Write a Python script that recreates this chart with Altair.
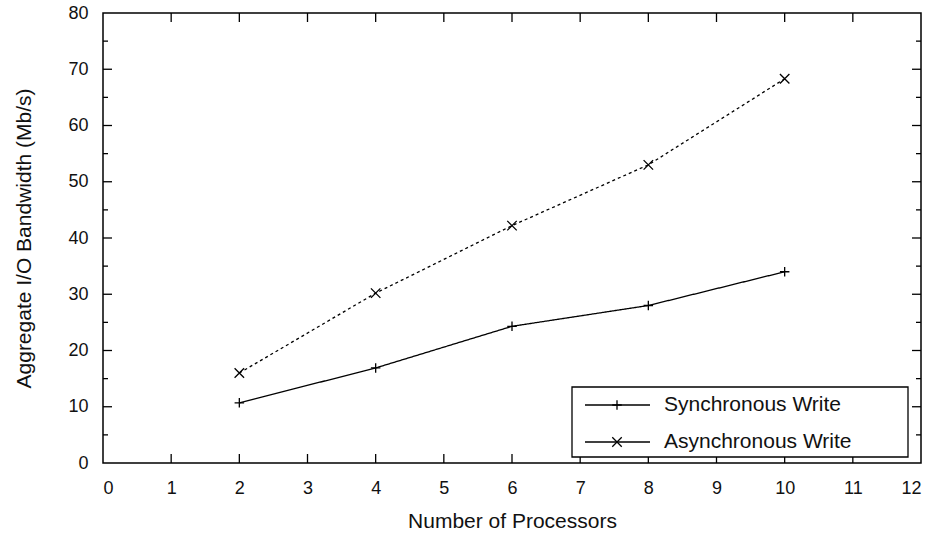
import altair as alt
import pandas as pd

# Measured aggregate write bandwidth versus number of processors
processors = [2, 4, 6, 8, 10]
sync_write = [10.7, 16.9, 24.3, 28.0, 34.0]
async_write = [16.0, 30.2, 42.2, 53.0, 68.3]
series_names = ["Synchronous Write", "Asynchronous Write"]

# Axis tick values
x_ticks = list(range(0, 13))
y_major = list(range(0, 81, 10))
y_minor = list(range(5, 80, 10))

FONT = "Liberation Sans"
W, H = 818, 450

df = pd.DataFrame({
    "procs": processors * 2,
    "bw": sync_write + async_write,
    "series": [series_names[0]] * len(processors) + [series_names[1]] * len(processors),
})

xscale = alt.Scale(domain=[0, 12], nice=False, zero=False)
yscale = alt.Scale(domain=[0, 80], nice=False, zero=False)
xaxis = alt.Axis(values=x_ticks, ticks=False, domain=False, grid=False,
                 labelPadding=16, labelFontSize=18, labelFont=FONT, labelColor="#111",
                 titleFont=FONT, titleFontSize=21, titleFontWeight="normal",
                 titleColor="#111", titlePadding=13)
yaxis = alt.Axis(values=y_major, ticks=False, domain=False, grid=False,
                 labelPadding=15, labelFontSize=18, labelFont=FONT, labelColor="#111",
                 titleFont=FONT, titleFontSize=21, titleFontWeight="normal",
                 titleColor="#111", titlePadding=33)
X_TITLE = "Number of Processors"
Y_TITLE = "Aggregate I/O Bandwidth (Mb/s)"


def xenc(field):
    return alt.X(field, type="quantitative", scale=xscale, axis=xaxis, title=X_TITLE)


def yenc(field):
    return alt.Y(field, type="quantitative", scale=yscale, axis=yaxis, title=Y_TITLE)


dash_scale = alt.Scale(domain=series_names, range=[[1, 0], [3, 3]])
shape_scale = alt.Scale(domain=series_names,
                        range=["M-1,0L1,0M0,-1L0,1", "M-1,-1L1,1M-1,1L1,-1"])

lines = alt.Chart(df).mark_line(color="black", strokeWidth=1.3).encode(
    x=xenc("procs"), y=yenc("bw"),
    strokeDash=alt.StrokeDash("series:N", scale=dash_scale, legend=None),
)
points = alt.Chart(df).mark_point(color="black", filled=False, strokeWidth=1.3, size=90,
                                  opacity=1).encode(
    x=xenc("procs"), y=yenc("bw"),
    shape=alt.Shape("series:N", scale=shape_scale, legend=None),
)

# Inward tick marks on all four sides of the frame
xt = pd.DataFrame({"t": x_ticks[1:-1]})
ymaj = pd.DataFrame({"t": y_major[1:-1]})
ymin = pd.DataFrame({"t": y_minor})
tick_style = dict(color="black", strokeWidth=1.3)
ticks = [
    alt.Chart(xt).mark_rule(**tick_style).encode(x=xenc("t"), y=alt.value(H), y2=alt.value(H - 9)),
    alt.Chart(xt).mark_rule(**tick_style).encode(x=xenc("t"), y=alt.value(0), y2=alt.value(9)),
    alt.Chart(ymaj).mark_rule(**tick_style).encode(y=yenc("t"), x=alt.value(0), x2=alt.value(9)),
    alt.Chart(ymaj).mark_rule(**tick_style).encode(y=yenc("t"), x=alt.value(W), x2=alt.value(W - 9)),
    alt.Chart(ymin).mark_rule(**tick_style).encode(y=yenc("t"), x=alt.value(0), x2=alt.value(5)),
    alt.Chart(ymin).mark_rule(**tick_style).encode(y=yenc("t"), x=alt.value(W), x2=alt.value(W - 5)),
]

# Key box in the lower right corner
LX0, LX1, LY0, LY1 = 469, 805, 374, 444
leg = pd.DataFrame({"series": series_names})
key = [alt.Chart(leg).transform_filter(alt.datum.series == series_names[0]).mark_rect(
    fill="white", stroke="black", strokeWidth=1.3).encode(
    x=alt.value(LX0), x2=alt.value(LX1), y=alt.value(LY0), y2=alt.value(LY1))]
for i, name in enumerate(series_names):
    row_y = LY0 + 18 + i * 37
    sub = alt.Chart(leg).transform_filter(alt.datum.series == name)
    key.append(sub.mark_rule(color="black", strokeWidth=1.3).encode(
        x=alt.value(482), x2=alt.value(547), y=alt.value(row_y)))
    key.append(sub.mark_point(color="black", filled=False, strokeWidth=1.3, size=90,
                              opacity=1).encode(
        x=alt.value(514), y=alt.value(row_y),
        shape=alt.Shape("series:N", scale=shape_scale, legend=None)))
    key.append(sub.mark_text(align="left", baseline="middle", font=FONT, fontSize=21,
                             color="#111").encode(
        x=alt.value(561), y=alt.value(row_y), text="series:N"))

chart = alt.layer(*ticks, lines, points, *key).properties(
    width=W, height=H,
    autosize=alt.AutoSizeParams(type="none"),
    padding={"left": 103, "top": 13, "right": 19, "bottom": 72},
    background="white",
).configure_view(stroke="black", strokeWidth=1.5)

chart.save("out.html", embed_options={"renderer": "svg", "actions": False})
